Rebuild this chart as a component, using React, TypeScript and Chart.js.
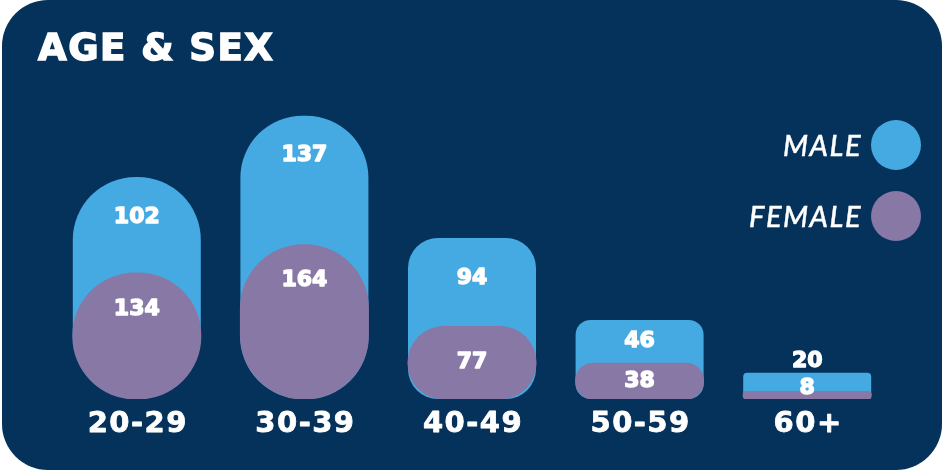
import React, { useEffect, useRef } from 'react';
import { Chart, registerables } from 'chart.js';

Chart.register(...registerables);

const ageGroups = ['20-29', '30-39', '40-49', '50-59', '60+'];
const maleCounts = [102, 137, 94, 46, 20];
const femaleCounts = [134, 164, 77, 38, 8];

const NAVY = '#05325b';
const BLUE = '#46aae2';
const PURPLE = '#8878a6';
const maleRadius = [63, 62, 30, 15, 4];

const HEAVY = '"DejaVu Sans", "Lato", sans-serif';

// heavy white text: fill plus a thin stroke to thicken the glyphs
function heavyText(ctx: CanvasRenderingContext2D, s: string, x: number, y: number, w: number) {
  ctx.fillText(s, x, y);
  ctx.lineWidth = w;
  ctx.strokeText(s, x, y);
}

// draws the counts on the bars and the age labels under them
const barLabels = {
  id: 'barLabels',
  afterDatasetsDraw(chart: Chart) {
    const { ctx } = chart;
    const female = chart.getDatasetMeta(0).data as any[];
    const male = chart.getDatasetMeta(1).data as any[];
    const x = chart.scales.x;
    ctx.save();
    ctx.fillStyle = '#ffffff';
    ctx.strokeStyle = '#ffffff';
    ctx.lineJoin = 'round';
    ctx.textAlign = 'center';
    ctx.textBaseline = 'middle';
    ctx.font = `bold 22px ${HEAVY}`;
    ageGroups.forEach((_, i) => {
      const m = male[i];
      const f = female[i];
      const visible = f.y - m.y;
      const my = visible < 25 ? m.y - 11 : Math.min(m.y + 40, (m.y + f.y) / 2);
      const fy = Math.min(f.y + 36, (f.y + f.base) / 2, f.base - 11);
      heavyText(ctx, String(maleCounts[i]), m.x, my, 1.4);
      heavyText(ctx, String(femaleCounts[i]), f.x, fy, 1.4);
    });
    ctx.font = `bold 29px ${HEAVY}`;
    (ctx as any).letterSpacing = '1.5px';
    ageGroups.forEach((g, i) => {
      heavyText(ctx, g, x.getPixelForValue(i) + 1, 424, 0.8);
    });
    ctx.restore();
  },
};

const App: React.FC = () => {
  const canvasRef = useRef<HTMLCanvasElement>(null);

  useEffect(() => {
    document.body.style.margin = '0';
    if (!canvasRef.current) return;

    const chart = new Chart(canvasRef.current, {
      type: 'bar',
      data: {
        labels: ageGroups,
        datasets: [
          {
            label: 'FEMALE',
            data: femaleCounts,
            backgroundColor: PURPLE,
            borderRadius: 64,
            borderSkipped: false,
            inflateAmount: 0.5,
            barThickness: 128,
          },
          {
            label: 'MALE',
            // male pill sits behind the female one, reaching the combined total
            data: maleCounts.map((v, i) => v + femaleCounts[i]),
            backgroundColor: BLUE,
            borderRadius: (c: any) => maleRadius[c.dataIndex] ?? 0,
            borderSkipped: false,
            inflateAmount: 0,
            barThickness: 128,
          },
        ],
      },
      options: {
        animation: false,
        responsive: false,
        layout: { padding: { top: 79, bottom: 71, left: 51, right: 51 } },
        scales: {
          x: { stacked: true, display: false },
          y: { stacked: false, display: false, min: 0, max: 340 },
        },
        plugins: { legend: { display: false }, tooltip: { enabled: false } },
      },
      plugins: [barLabels],
    });

    return () => chart.destroy();
  }, []);

  return (
    <div style={{ position: 'relative', width: 945, height: 472, background: '#ffffff', overflow: 'hidden' }}>
      <div
        style={{
          position: 'absolute', left: 2, top: 0, width: 940, height: 470,
          background: NAVY, borderRadius: 46, overflow: 'hidden',
        }}
      >
        <canvas ref={canvasRef} width={940} height={470} style={{ position: 'absolute', left: 0, top: 0 }} />
        <div
          style={{
            position: 'absolute', left: 36, top: 24, color: '#fff', fontFamily: HEAVY,
            fontWeight: 'bold', fontSize: 37, letterSpacing: 1.5, lineHeight: '48px',
            WebkitTextStroke: '1.5px #fff',
          }}
        >
          AGE &amp; SEX
        </div>
        {[
          { label: 'MALE', color: BLUE, y: 145 },
          { label: 'FEMALE', color: PURPLE, y: 216 },
        ].map(item => (
          <div key={item.label}>
            <div
              style={{
                position: 'absolute', right: 940 - 860, top: item.y - 18, color: '#fff',
                fontFamily: '"Lato", sans-serif', fontStyle: 'italic', fontWeight: 500,
                fontSize: 29, letterSpacing: 1.5, lineHeight: '36px', whiteSpace: 'nowrap',
                WebkitTextStroke: '0.4px #fff',
              }}
            >
              {item.label}
            </div>
            <div
              style={{
                position: 'absolute', left: 894 - 25, top: item.y - 25, width: 50, height: 50,
                borderRadius: '50%', background: item.color,
              }}
            />
          </div>
        ))}
      </div>
    </div>
  );
};

export default App;
